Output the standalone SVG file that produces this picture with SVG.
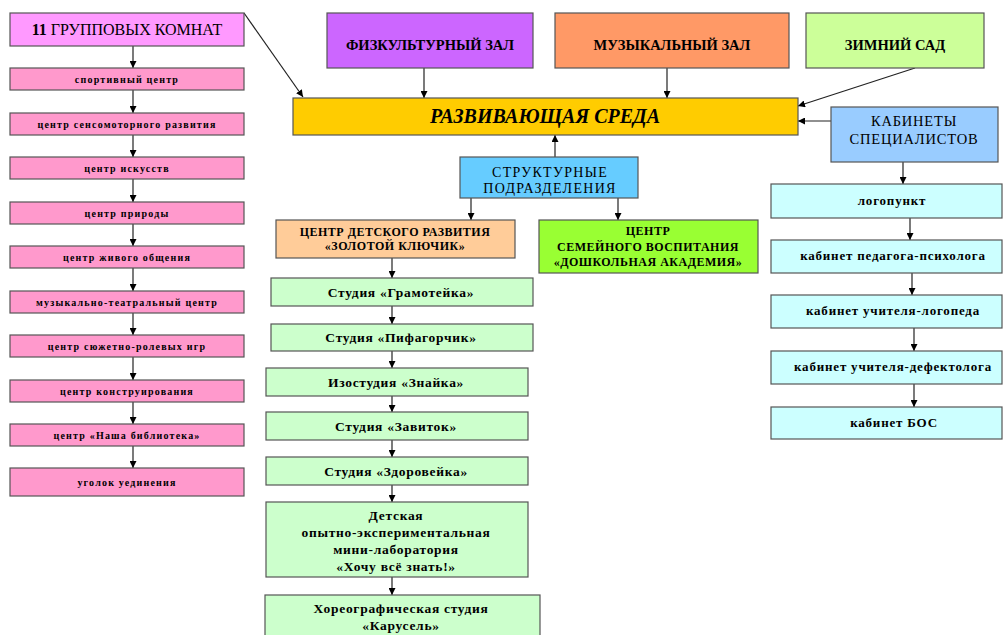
<svg xmlns="http://www.w3.org/2000/svg" width="1003" height="635" viewBox="0 0 1003 635">
<defs>
<marker id="ah" viewBox="0 0 10 10" refX="10" refY="5" markerWidth="7" markerHeight="7" orient="auto" markerUnits="userSpaceOnUse">
<path d="M0,0 L10,5 L0,10 z" fill="#000"/>
</marker>
<style>
.b{stroke:#555;stroke-width:1.2}
text{font-family:"Liberation Serif","DejaVu Serif",serif;fill:#000;text-anchor:middle}
.c{stroke:#222;stroke-width:1.2;fill:none;marker-end:url(#ah)}
.pk{fill:#FF99CC}
.sm{font-size:10px;font-weight:bold;letter-spacing:1.2px}
.top{font-size:14.5px;font-weight:bold}
.gr{fill:#CCFFCC}
.st{font-size:13.5px;font-weight:bold;letter-spacing:0.7px}
.cy{fill:#CCFFFF}
.rt{font-size:13px;font-weight:bold;letter-spacing:0.8px}
.cap{font-size:12px;font-weight:bold;letter-spacing:0.5px}
</style>
</defs>
<rect width="1003" height="635" fill="#fff"/>

<g id="connectors">
<line class="c" x1="244" y1="13" x2="303" y2="97"/>
<line class="c" x1="424" y1="68" x2="424" y2="98"/>
<line class="c" x1="667" y1="68" x2="667" y2="98"/>
<line class="c" x1="915" y1="68" x2="798" y2="106"/>
<line class="c" x1="831" y1="121" x2="798" y2="121"/>
<line class="c" x1="555" y1="157" x2="555" y2="135"/>
<line class="c" x1="471" y1="198" x2="471" y2="220"/>
<line class="c" x1="618" y1="198" x2="618" y2="220"/>
<line class="c" x1="133" y1="46" x2="133" y2="68"/>
<line class="c" x1="133" y1="90" x2="133" y2="113"/>
<line class="c" x1="133" y1="135" x2="133" y2="157"/>
<line class="c" x1="133" y1="179" x2="133" y2="202"/>
<line class="c" x1="133" y1="224" x2="133" y2="246"/>
<line class="c" x1="133" y1="268" x2="133" y2="291"/>
<line class="c" x1="133" y1="313" x2="133" y2="335"/>
<line class="c" x1="133" y1="357" x2="133" y2="380"/>
<line class="c" x1="133" y1="402" x2="133" y2="424"/>
<line class="c" x1="133" y1="446" x2="133" y2="468"/>
<line class="c" x1="392" y1="258" x2="392" y2="278"/>
<line class="c" x1="392" y1="306" x2="392" y2="324"/>
<line class="c" x1="392" y1="351" x2="392" y2="368"/>
<line class="c" x1="392" y1="396" x2="392" y2="412"/>
<line class="c" x1="392" y1="440" x2="392" y2="457"/>
<line class="c" x1="392" y1="485" x2="392" y2="502"/>
<line class="c" x1="392" y1="577" x2="392" y2="595"/>
<line class="c" x1="903" y1="162" x2="903" y2="184"/>
<line class="c" x1="910" y1="218" x2="910" y2="240"/>
<line class="c" x1="912" y1="273" x2="912" y2="295"/>
<line class="c" x1="914" y1="328" x2="914" y2="351"/>
<line class="c" x1="914" y1="384" x2="914" y2="407"/>
</g>

<g id="gruppovye"><rect class="b" x="10" y="13" width="234" height="33" fill="#FF99FF"/><text x="127" y="35" font-size="16"><tspan font-weight="bold">11</tspan> ГРУППОВЫХ КОМНАТ</text></g>
<g id="sport"><rect class="b pk" x="10" y="68" width="234" height="22"/><text class="sm" x="127" y="83">спортивный центр</text></g>
<g id="sensomotor"><rect class="b pk" x="10" y="113" width="234" height="22"/><text class="sm" x="127" y="128">центр сенсомоторного развития</text></g>
<g id="iskusstv"><rect class="b pk" x="10" y="157" width="234" height="22"/><text class="sm" x="127" y="172">центр искусств</text></g>
<g id="prirody"><rect class="b pk" x="10" y="202" width="234" height="22"/><text class="sm" x="127" y="217">центр природы</text></g>
<g id="zhivogo"><rect class="b pk" x="10" y="246" width="234" height="22"/><text class="sm" x="127" y="261">центр живого общения</text></g>
<g id="muzteatr"><rect class="b pk" x="10" y="291" width="234" height="22"/><text class="sm" x="127" y="306">музыкально-театральный центр</text></g>
<g id="syuzhet"><rect class="b pk" x="10" y="335" width="234" height="22"/><text class="sm" x="127" y="350">центр сюжетно-ролевых игр</text></g>
<g id="konstr"><rect class="b pk" x="10" y="380" width="234" height="22"/><text class="sm" x="127" y="395">центр конструирования</text></g>
<g id="biblioteka"><rect class="b pk" x="10" y="424" width="234" height="22"/><text class="sm" x="127" y="439">центр «Наша библиотека»</text></g>
<g id="ugolok"><rect class="b pk" x="10" y="468" width="234" height="28"/><text class="sm" x="127" y="486">уголок уединения</text></g>

<g id="fizkult"><rect class="b" x="327" y="13" width="206" height="55" fill="#CC66FF"/><text class="top" x="430" y="50">ФИЗКУЛЬТУРНЫЙ ЗАЛ</text></g>
<g id="muzzal"><rect class="b" x="555" y="13" width="234" height="55" fill="#FF9966"/><text class="top" x="672" y="50">МУЗЫКАЛЬНЫЙ ЗАЛ</text></g>
<g id="zimniy"><rect class="b" x="806" y="13" width="178" height="55" fill="#CCFF99"/><text class="top" x="895" y="50">ЗИМНИЙ САД</text></g>

<g id="sreda"><rect class="b" x="293" y="98" width="505" height="37" fill="#FFCC00"/><text x="545" y="123" font-size="20" font-weight="bold" font-style="italic">РАЗВИВАЮЩАЯ СРЕДА</text></g>

<g id="kabinety"><rect class="b" x="831" y="107" width="167" height="55" fill="#99CCFF"/><text x="914" y="126" font-size="14.5" letter-spacing="0.8">КАБИНЕТЫ</text><text x="914" y="144" font-size="14.5" letter-spacing="0.8">СПЕЦИАЛИСТОВ</text></g>

<g id="struktur"><rect class="b" x="460" y="157" width="178" height="41" fill="#66CCFF"/><text x="550" y="177" font-size="14" letter-spacing="1.3">СТРУКТУРНЫЕ</text><text x="550" y="193" font-size="14" letter-spacing="1.3">ПОДРАЗДЕЛЕНИЯ</text></g>

<g id="zolotoy"><rect class="b" x="276" y="220" width="239" height="38" fill="#FFCC99"/><text class="cap" x="395" y="236">ЦЕНТР ДЕТСКОГО РАЗВИТИЯ</text><text class="cap" x="395" y="250">«ЗОЛОТОЙ КЛЮЧИК»</text></g>
<g id="semeynogo"><rect class="b" x="539" y="220" width="219" height="53" fill="#99FF33"/><text class="cap" x="648" y="235">ЦЕНТР</text><text class="cap" x="648" y="251">СЕМЕЙНОГО ВОСПИТАНИЯ</text><text class="cap" x="648" y="266">«ДОШКОЛЬНАЯ АКАДЕМИЯ»</text></g>

<g id="gramoteyka"><rect class="b gr" x="271" y="278" width="262" height="28"/><text class="st" x="401" y="297">Студия «Грамотейка»</text></g>
<g id="pifagorchik"><rect class="b gr" x="271" y="324" width="262" height="27"/><text class="st" x="401" y="342">Студия «Пифагорчик»</text></g>
<g id="znayka"><rect class="b gr" x="266" y="368" width="262" height="28"/><text class="st" x="396" y="387">Изостудия «Знайка»</text></g>
<g id="zavitok"><rect class="b gr" x="266" y="412" width="262" height="28"/><text class="st" x="396" y="431">Студия «Завиток»</text></g>
<g id="zdoroveyka"><rect class="b gr" x="266" y="457" width="262" height="28"/><text class="st" x="396" y="476">Студия «Здоровейка»</text></g>
<g id="laboratoriya"><rect class="b gr" x="266" y="502" width="262" height="75"/><text class="st" x="396" y="520">Детская</text><text class="st" x="396" y="537">опытно-экспериментальная</text><text class="st" x="396" y="554">мини-лаборатория</text><text class="st" x="396" y="571">«Хочу всё знать!»</text></g>
<g id="karusel"><rect class="b gr" x="265" y="595" width="275" height="45"/><text class="st" x="401" y="613">Хореографическая студия</text><text class="st" x="401" y="630">«Карусель»</text></g>

<g id="logopunkt"><rect class="b cy" x="771" y="184" width="231" height="34"/><text class="rt" x="892" y="205">логопункт</text></g>
<g id="psiholog"><rect class="b cy" x="771" y="240" width="231" height="33"/><text class="rt" x="893" y="260">кабинет педагога-психолога</text></g>
<g id="logoped"><rect class="b cy" x="771" y="295" width="231" height="33"/><text class="rt" x="893" y="315">кабинет учителя-логопеда</text></g>
<g id="defektolog"><rect class="b cy" x="771" y="351" width="231" height="33"/><text class="rt" x="893" y="371">кабинет учителя-дефектолога</text></g>
<g id="bos"><rect class="b cy" x="771" y="407" width="231" height="32"/><text class="rt" x="894" y="427">кабинет БОС</text></g>
</svg>
